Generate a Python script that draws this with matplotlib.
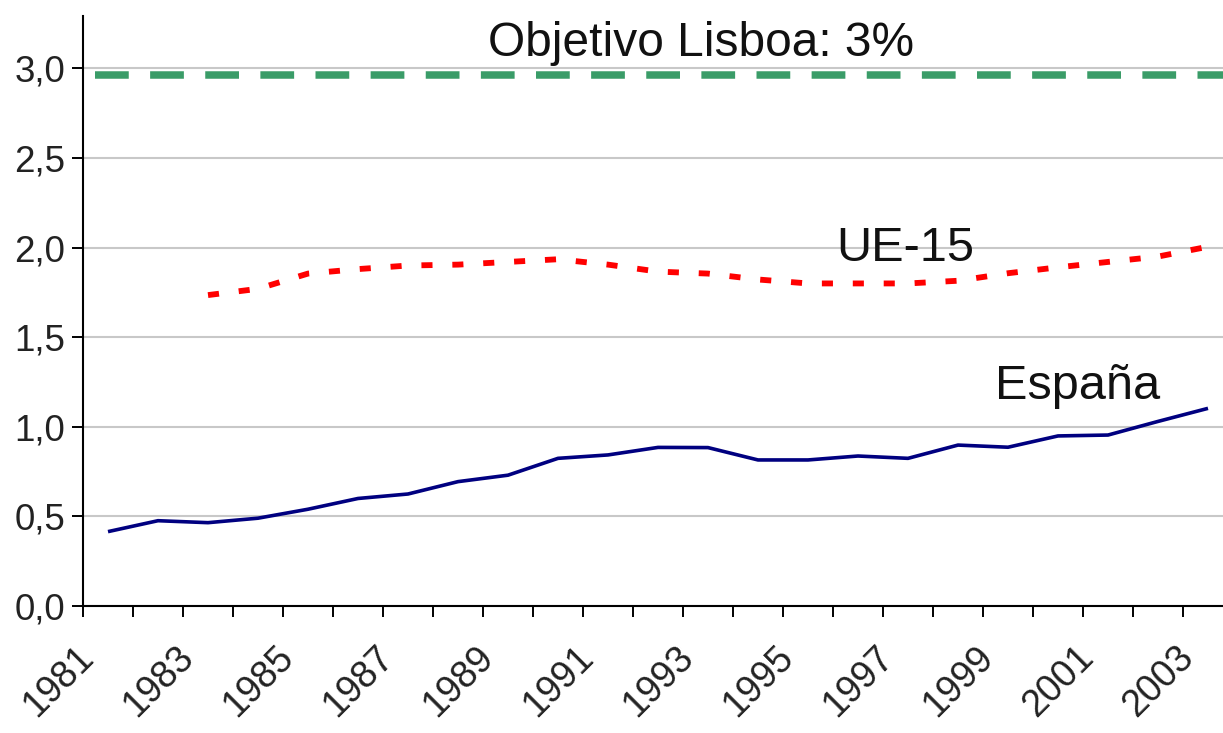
import numpy as np
import matplotlib
matplotlib.use("Agg")
import matplotlib.pyplot as plt
from matplotlib.ticker import FuncFormatter, FixedLocator
from matplotlib.transforms import ScaledTranslation

plt.rcParams['font.family'] = ['Liberation Sans', 'DejaVu Sans']

# years on the category axis
years = list(range(1981, 2004))

# R&D spending, % of GDP
espana = [0.415, 0.476, 0.465, 0.49, 0.54, 0.60, 0.625, 0.694, 0.73, 0.824,
          0.843, 0.885, 0.884, 0.815, 0.815, 0.837, 0.824, 0.898, 0.886,
          0.949, 0.954, 1.03, 1.103]
ue15 = [np.nan, np.nan, 1.735, 1.77, 1.855, 1.88, 1.90, 1.905, 1.92, 1.935,
        1.905, 1.866, 1.855, 1.822, 1.80, 1.80, 1.80, 1.815, 1.857, 1.89,
        1.92, 1.95, 2.005]
lisboa_target = 2.965

y_ticks = [0.0, 0.5, 1.0, 1.5, 2.0, 2.5, 3.0]
x_labels = [str(y) for y in years[::2]]

W, H = 1223, 733
fig = plt.figure(figsize=(W / 100, H / 100), dpi=100)
# axes box in pixels: left 83, bottom 606, top 16, runs past right edge
ax = fig.add_axes([83 / W, (H - 606) / H, (W - 83) / W, (606 - 16) / H])

x = np.arange(len(years))
ax.set_xlim(-0.5, 22.3)
ax.set_ylim(0, 590 / 179.2)

for s in ['top', 'right']:
    ax.spines[s].set_visible(False)
for s in ['left', 'bottom']:
    ax.spines[s].set_linewidth(1.5)
    ax.spines[s].set_color('black')

ax.set_yticks(y_ticks)
ax.yaxis.set_major_formatter(FuncFormatter(lambda v, p: f"{v:.1f}".replace('.', ',')))
ax.tick_params(axis='y', direction='out', length=8, width=1.4, pad=5,
               labelsize=26.5, colors='black', labelcolor='#222222')
ax.grid(axis='y', color='#c8c8c8', linewidth=1.5)
ax.set_axisbelow(True)

# x: ticks at category boundaries, labels at every other category
ax.set_xticks(x[::2])
ax.set_xticklabels(x_labels)
ax.xaxis.set_minor_locator(FixedLocator(np.arange(-0.5, len(years), 1.0)))
ax.tick_params(axis='x', which='major', length=0, pad=33, labelsize=27,
               labelcolor='#222222')
ax.tick_params(axis='x', which='minor', direction='out', length=8, width=1.4,
               colors='black')
shift = ScaledTranslation(-20 / 100, 0, fig.dpi_scale_trans)
for lab in ax.get_xticklabels():
    lab.set_rotation(45)
    lab.set_ha('right')
    lab.set_va('center')
    lab.set_rotation_mode('anchor')
    lab.set_transform(lab.get_transform() + shift)

# target line
ax.axhline(lisboa_target, xmin=12 / 1140, color='#3a9c68', linewidth=5.4,
           linestyle=(0, (4.5, 2.85)), dash_capstyle='butt', zorder=3)

ax.plot(x, ue15, color='#ff0000', linewidth=4.2,
        linestyle=(0, (1.9, 3.4)), dash_capstyle='butt', zorder=3)
ax.plot(x, espana, color='#000080', linewidth=2.6, zorder=3,
        solid_joinstyle='round', solid_capstyle='butt')

ax.text(11.86, 3.067, 'Objetivo Lisboa: 3%', ha='center', va='baseline',
        fontsize=34.5, color='#111111')
ax.text(15.94, 1.927, 'UE-15', ha='center', va='baseline',
        fontsize=35, color='#111111')
ax.text(19.4, 1.156, 'España', ha='center', va='baseline',
        fontsize=35, color='#111111')

fig.savefig('out.png', dpi=100)
